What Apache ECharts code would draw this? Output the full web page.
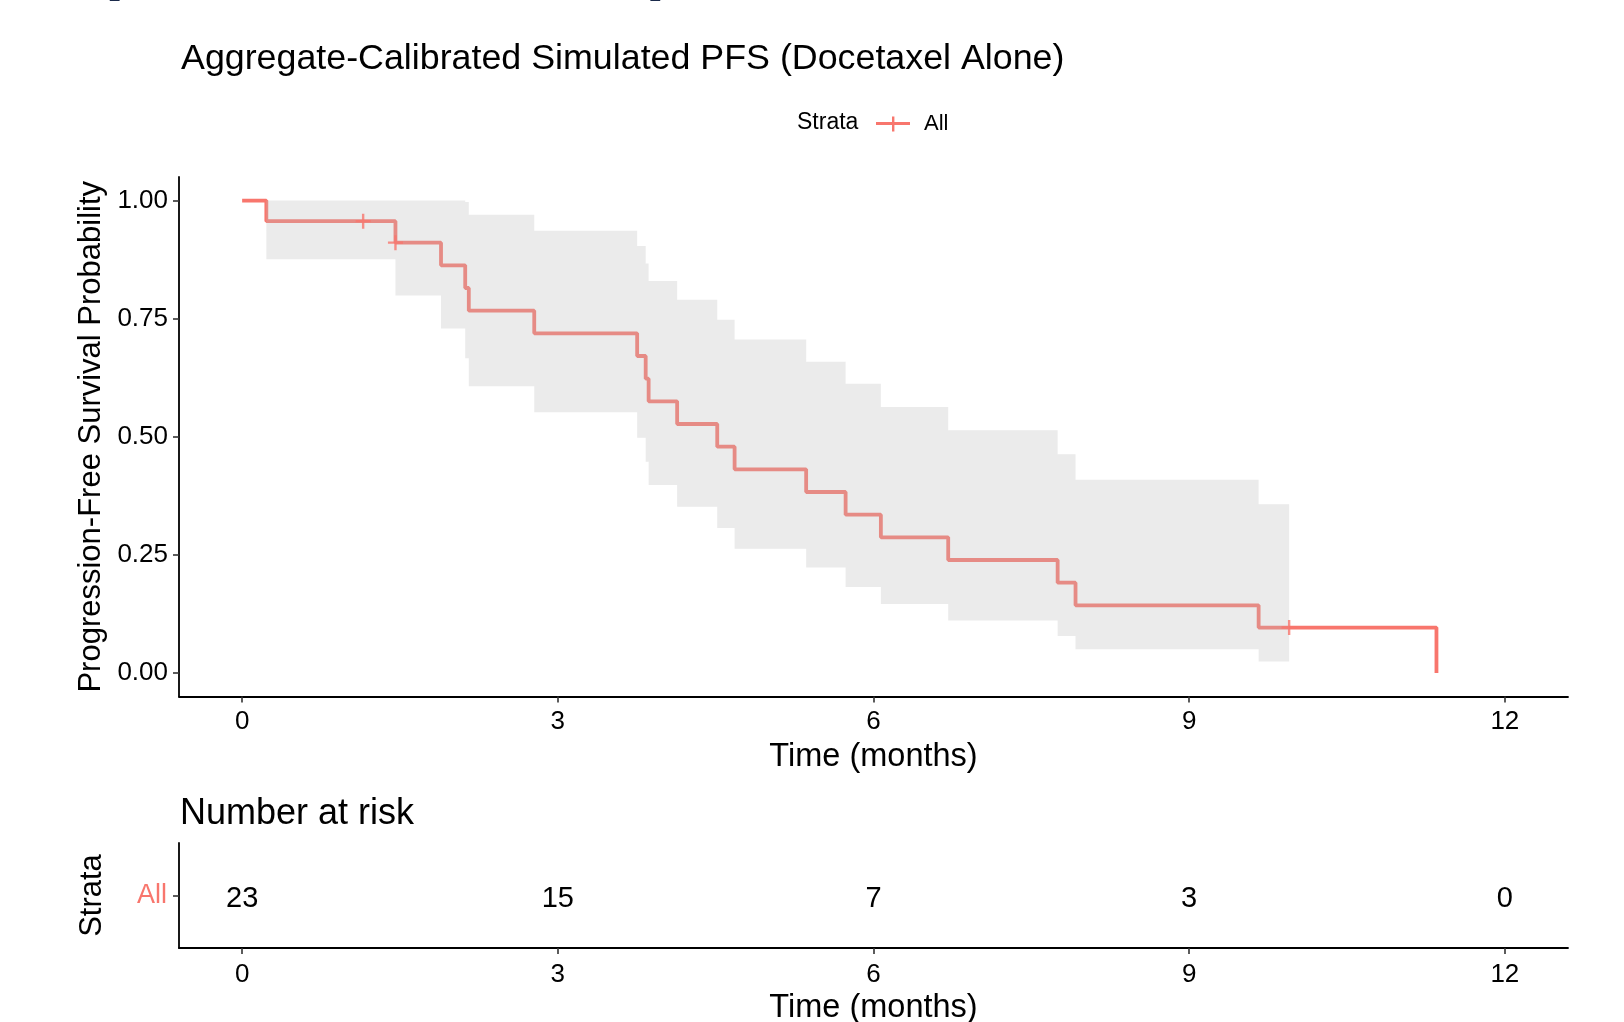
<!DOCTYPE html>
<html>
<head>
<meta charset="utf-8">
<script src="https://cdn.jsdelivr.net/npm/echarts@6/dist/echarts.min.js"></script>
<style>
  html, body { margin: 0; padding: 0; background: #fff; }
  #chart { width: 1624px; height: 1022px; }
</style>
</head>
<body>
<div id="chart"></div>
<script>
// Kaplan-Meier steps (time in months, survival probability)
const kmTime = [0, 0.23, 1.457, 1.89, 2.12, 2.154, 2.776, 3.754, 3.835, 3.863, 4.134, 4.515, 4.68, 5.36, 5.735, 6.07, 6.71, 7.75, 7.92, 9.66, 11.35];
const kmSurv = [1, 0.9565, 0.911, 0.863, 0.815, 0.767, 0.719, 0.671, 0.623, 0.575, 0.527, 0.479, 0.431, 0.383, 0.335, 0.287, 0.239, 0.191, 0.143, 0.096, 0];

// censored observations
const censorTime = [1.15, 1.457, 9.95];
const censorSurv = [0.9565, 0.911, 0.096];

// confidence band steps (start time of each step, lower / upper bound)
const bandTime = [0.23, 1.457, 1.89, 2.12, 2.154, 2.776, 3.754, 3.835, 3.863, 4.134, 4.515, 4.68, 5.36, 5.735, 6.07, 6.71, 7.75, 7.92, 9.66];
const bandUpper = [1, 1, 1, 0.997, 0.970, 0.936, 0.904, 0.867, 0.830, 0.790, 0.748, 0.706, 0.659, 0.612, 0.563, 0.514, 0.463, 0.409, 0.357];
const bandLower = [0.876, 0.799, 0.729, 0.666, 0.607, 0.552, 0.498, 0.447, 0.398, 0.352, 0.307, 0.263, 0.223, 0.182, 0.146, 0.111, 0.078, 0.050, 0.024];
const bandEnd = 9.95;

// axes and risk table
const timeTicks = [0, 3, 6, 9, 12];
const survTicks = [0, 0.25, 0.5, 0.75, 1];
const strata = ['All'];
const riskCounts = [23, 15, 7, 3, 0];

const FONT = '"Liberation Sans", Arial, sans-serif';
const RED = '#F8766D';

const chart = echarts.init(document.getElementById('chart'));

const plusIcon = 'path://M0,5.5 H34 V8.5 H0 Z M16,0 H18.4 V15 H16 Z';
const censorSymbol = 'path://M6.3,0 H8.7 V6.3 H15 V8.7 H8.7 V15 H6.3 V8.7 H0 V6.3 H6.3 Z';

function timeAxis(gridIndex, labelMargin) {
    return {
        type: 'value', gridIndex: gridIndex,
        min: -0.6, max: 12.6,
        name: 'Time (months)', nameLocation: 'middle', nameGap: 44,
        nameTextStyle: { fontSize: 32.5, color: '#000', fontFamily: FONT },
        axisLine: { show: true, onZero: false, lineStyle: { color: '#000', width: 1.8 } },
        axisTick: { show: true, length: 6, customValues: timeTicks, lineStyle: { color: '#333', width: 1.6 } },
        axisLabel: { customValues: timeTicks, margin: labelMargin, fontSize: 26, color: '#000', fontFamily: FONT },
        splitLine: { show: false }
    };
}

const option = {
    animation: false,
    backgroundColor: '#fff',
    title: {
        text: 'Aggregate-Calibrated Simulated PFS (Docetaxel Alone)',
        left: 176, top: 36,
        textStyle: { fontSize: 35.8, fontWeight: 'normal', color: '#000', fontFamily: FONT }
    },
    legend: {
        data: [{ name: 'All', icon: plusIcon }],
        left: 876, top: 113, padding: 0,
        itemWidth: 34, itemHeight: 15,
        textStyle: { fontSize: 22, color: '#000', fontFamily: FONT, padding: [0, 0, 0, 9] }
    },
    graphic: [
        { type: 'text', left: 797, top: 111, style: { text: 'Strata', fill: '#000', font: '23px ' + FONT } },
        { type: 'text', left: 180, top: 796, style: { text: 'Number at risk', fill: '#000', font: '36px ' + FONT } },
        // bottoms of the cut-off heading above the chart
        { type: 'text', x: 96, y: 2, style: { text: '(', fill: '#1B2B4B', font: 'bold 72px ' + FONT, verticalAlign: 'bottom' } },
        { type: 'text', x: 650, y: 2, style: { text: ')', fill: '#1B2B4B', font: 'bold 72px ' + FONT, verticalAlign: 'bottom' } }
    ],
    grid: [
        { left: 179, right: 56, top: 177, height: 519.5, outerBoundsMode: 'none' },
        { left: 179, right: 56, top: 843, height: 105, outerBoundsMode: 'none' }
    ],
    xAxis: [timeAxis(0, 12), timeAxis(1, 14)],
    yAxis: [
        {
            type: 'value', gridIndex: 0, min: -0.05, max: 1.05,
            name: 'Progression-Free Survival Probability', nameLocation: 'middle', nameGap: 71,
            nameTextStyle: { fontSize: 31, color: '#000', fontFamily: FONT },
            axisLine: { show: true, onZero: false, lineStyle: { color: '#000', width: 1.8 } },
            axisTick: { show: true, length: 6, customValues: survTicks, lineStyle: { color: '#333', width: 1.6 } },
            axisLabel: { customValues: survTicks, margin: 11, fontSize: 26, color: '#000', fontFamily: FONT,
                         formatter: v => v.toFixed(2) },
            splitLine: { show: false }
        },
        {
            type: 'category', gridIndex: 1, data: strata,
            name: 'Strata', nameLocation: 'middle', nameGap: 71,
            nameTextStyle: { fontSize: 31, color: '#000', fontFamily: FONT },
            axisLine: { show: true, onZero: false, lineStyle: { color: '#000', width: 1.8 } },
            axisTick: { show: true, length: 6, alignWithLabel: true, lineStyle: { color: '#333', width: 1.6 } },
            axisLabel: { margin: 12, fontSize: 27, color: RED, fontFamily: FONT },
            splitLine: { show: false }
        }
    ],
    series: [
        {
            name: 'All', type: 'line', step: 'end', z: 1,
            xAxisIndex: 0, yAxisIndex: 0,
            data: kmTime.map((t, i) => [t, kmSurv[i]]),
            showSymbol: false, color: RED,
            lineStyle: { color: RED, width: 3.8 }
        },
        {
            name: 'band', type: 'custom', z: 2,
            xAxisIndex: 0, yAxisIndex: 0,
            data: bandTime.map((t, i) => [t, bandLower[i], bandUpper[i]]),
            encode: { x: 0, y: [1, 2] },
            silent: true,
            renderItem: function (params, api) {
                if (params.dataIndex !== 0) return null;
                const up = [], lo = [];
                for (let i = 0; i < bandTime.length; i++) {
                    const t1 = i + 1 < bandTime.length ? bandTime[i + 1] : bandEnd;
                    up.push(api.coord([bandTime[i], bandUpper[i]]), api.coord([t1, bandUpper[i]]));
                    lo.push(api.coord([bandTime[i], bandLower[i]]), api.coord([t1, bandLower[i]]));
                }
                return {
                    type: 'polygon',
                    shape: { points: up.concat(lo.reverse()) },
                    style: { fill: 'rgba(190,190,190,0.3)' }
                };
            }
        },
        {
            name: 'censor', type: 'scatter', z: 3,
            xAxisIndex: 0, yAxisIndex: 0,
            data: censorTime.map((t, i) => [t, censorSurv[i]]),
            symbol: censorSymbol, symbolSize: 15,
            itemStyle: { color: RED }
        },
        {
            name: 'risk', type: 'custom',
            xAxisIndex: 1, yAxisIndex: 1,
            data: timeTicks.map((t, i) => [t, 0, riskCounts[i]]),
            renderItem: function (params, api) {
                const p = api.coord([api.value(0), api.value(1)]);
                return {
                    type: 'text', x: p[0], y: p[1] + 3.5,
                    style: { text: String(api.value(2)), align: 'center', verticalAlign: 'middle',
                             fill: '#000', font: '29px ' + FONT }
                };
            }
        }
    ]
};

chart.setOption(option);
</script>
</body>
</html>
